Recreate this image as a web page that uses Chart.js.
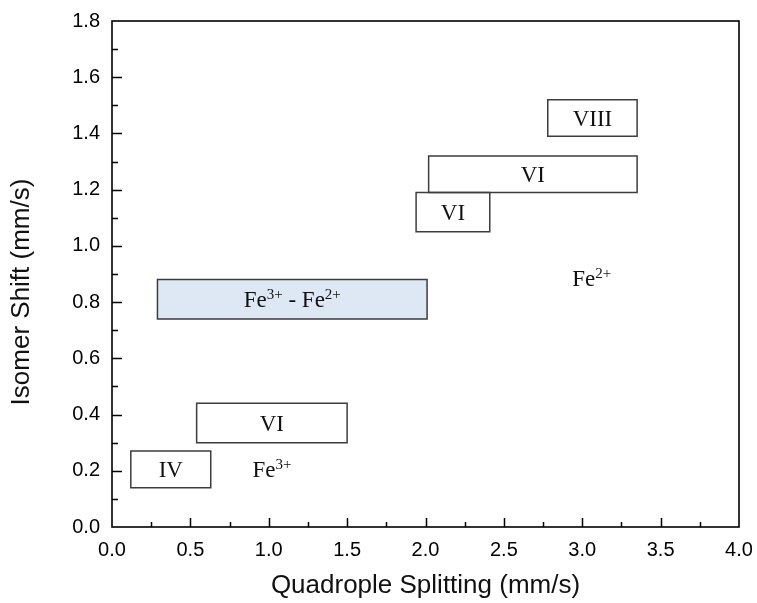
<!DOCTYPE html>
<html>
<head>
<meta charset="utf-8">
<title>Isomer Shift vs Quadrople Splitting</title>
<script src="https://cdn.jsdelivr.net/npm/chart.js@4/dist/chart.umd.min.js"></script>
<style>
  html, body { margin: 0; padding: 0; background: #fff; }
  #wrap { width: 757px; height: 603px; }
</style>
</head>
<body>
<div id="wrap"><canvas id="c" width="757" height="603"></canvas></div>
<script>
// Coordination-number regions (quadrupole splitting vs isomer shift, mm/s)
const boxLabels = ['IV', 'VI', 'Fe^{3+} - Fe^{2+}', 'VI', 'VI', 'VIII'];
const qsMin = [0.12, 0.54, 0.29, 1.94, 2.02, 2.78];
const qsMax = [0.63, 1.50, 2.01, 2.41, 3.35, 3.35];
const isMin = [0.14, 0.30, 0.74, 1.05, 1.19, 1.39];
const isMax = [0.27, 0.44, 0.88, 1.19, 1.32, 1.52];
const boxFills = [null, null, '#dde8f4', null, null, null];

// Free-standing oxidation-state labels
const noteLabels = ['Fe^{3+}', 'Fe^{2+}'];
const noteQs = [1.02, 3.06];
const noteIs = [0.205, 0.885];

// Axis ranges and tick steps
const xRange = [0, 4.0];
const yRange = [0, 1.8];
const xStep = 0.5;
const yStep = 0.2;
const xTitle = 'Quadrople Splitting (mm/s)';
const yTitle = 'Isomer Shift (mm/s)';

const SANS = '"Liberation Sans", Arial, sans-serif';
const SERIF = '"Liberation Serif", "Times New Roman", serif';

// Each region becomes a closed polygon dataset
const datasets = boxLabels.map((lab, i) => ({
  label: lab,
  type: 'line',
  data: [
    { x: qsMin[i], y: isMin[i] },
    { x: qsMax[i], y: isMin[i] },
    { x: qsMax[i], y: isMax[i] },
    { x: qsMin[i], y: isMax[i] },
    { x: qsMin[i], y: isMin[i] }
  ],
  borderColor: '#3d3d3d',
  borderWidth: 1.5,
  borderJoinStyle: 'miter',
  borderCapStyle: 'square',
  backgroundColor: boxFills[i] || 'rgba(0,0,0,0)',
  fill: boxFills[i] ? 'shape' : false,
  pointRadius: 0,
  pointHoverRadius: 0,
  tension: 0,
  order: boxFills[i] ? 1 : 0
}));

// "Fe^{3+}" -> [{t:'Fe'},{t:'3+',sup:true}]
function parseRich(str) {
  const parts = [];
  const re = /\^\{([^}]*)\}/g;
  let last = 0, m;
  while ((m = re.exec(str)) !== null) {
    if (m.index > last) parts.push({ t: str.slice(last, m.index) });
    parts.push({ t: m[1], sup: true });
    last = re.lastIndex;
  }
  if (last < str.length) parts.push({ t: str.slice(last) });
  return parts;
}

function drawRich(ctx, str, cx, cy, size) {
  const supSize = Math.round(size * 0.65);
  const parts = parseRich(str);
  const fontMain = size + 'px ' + SERIF;
  const fontSup = supSize + 'px ' + SERIF;
  let total = 0;
  parts.forEach(p => {
    ctx.font = p.sup ? fontSup : fontMain;
    p.w = ctx.measureText(p.t).width;
    total += p.w;
  });
  // vertically centre on the capital height
  const baseline = cy + size * 0.662 / 2;
  let x = cx - total / 2;
  ctx.textAlign = 'left';
  ctx.textBaseline = 'alphabetic';
  parts.forEach(p => {
    ctx.font = p.sup ? fontSup : fontMain;
    ctx.fillText(p.t, x, p.sup ? baseline - size * 0.36 : baseline);
    x += p.w;
  });
}

const decorPlugin = {
  id: 'decor',
  afterDatasetsDraw(chart) {
    const { ctx, chartArea: a, scales: { x, y } } = chart;
    ctx.save();
    ctx.fillStyle = '#111';
    boxLabels.forEach((lab, i) => {
      const cx = x.getPixelForValue((qsMin[i] + qsMax[i]) / 2);
      const cy = y.getPixelForValue((isMin[i] + isMax[i]) / 2);
      drawRich(ctx, lab, cx, cy, 23);
    });
    noteLabels.forEach((lab, i) => {
      drawRich(ctx, lab, x.getPixelForValue(noteQs[i]), y.getPixelForValue(noteIs[i]), 23);
    });

    // frame
    ctx.strokeStyle = '#000';
    ctx.lineWidth = 1.6;
    ctx.strokeRect(a.left, a.top, a.right - a.left, a.bottom - a.top);

    // inward ticks: major at label steps, minor halfway between
    ctx.lineWidth = 1.5;
    ctx.beginPath();
    const nx = Math.round((xRange[1] - xRange[0]) / (xStep / 2));
    for (let k = 1; k < nx; k++) {
      const v = xRange[0] + k * xStep / 2;
      const px = Math.round(x.getPixelForValue(v)) + 0.5;
      const len = k % 2 === 0 ? 9 : 5;
      ctx.moveTo(px, a.bottom);
      ctx.lineTo(px, a.bottom - len);
    }
    const ny = Math.round((yRange[1] - yRange[0]) / (yStep / 2));
    for (let k = 1; k < ny; k++) {
      const v = yRange[0] + k * yStep / 2;
      const py = Math.round(y.getPixelForValue(v)) + 0.5;
      const len = k % 2 === 0 ? 10 : 6;
      ctx.moveTo(a.left, py);
      ctx.lineTo(a.left + len, py);
    }
    ctx.stroke();

    // vertical axis title
    ctx.translate(21.5, 292);
    ctx.rotate(-Math.PI / 2);
    ctx.font = '26px ' + SANS;
    ctx.textAlign = 'center';
    ctx.textBaseline = 'middle';
    ctx.fillStyle = '#111';
    ctx.fillText(yTitle, 0, 0);
    ctx.restore();
  }
};

new Chart(document.getElementById('c'), {
  type: 'scatter',
  data: { datasets },
  plugins: [decorPlugin],
  options: {
    responsive: false,
    animation: false,
    events: [],
    layout: { padding: { left: 0, right: 18, top: 21, bottom: 0 } },
    plugins: { legend: { display: false }, tooltip: { enabled: false } },
    scales: {
      x: {
        type: 'linear',
        min: xRange[0], max: xRange[1],
        afterFit(s) { s.height = 76; s.paddingLeft = 0; s.paddingRight = 0; },
        border: { display: false },
        grid: { display: false, drawTicks: false },
        ticks: {
          stepSize: xStep,
          callback: v => Number(v).toFixed(1),
          font: { family: SANS, size: 20 },
          color: '#000',
          padding: 11,
          maxRotation: 0,
          autoSkip: false
        },
        title: {
          display: true,
          text: xTitle,
          font: { family: SANS, size: 26 },
          color: '#111',
          padding: { top: 0, bottom: 2 }
        }
      },
      y: {
        type: 'linear',
        min: yRange[0], max: yRange[1],
        afterFit(s) { s.width = 112; s.paddingTop = 0; s.paddingBottom = 0; },
        border: { display: false },
        grid: { display: false, drawTicks: false },
        ticks: {
          stepSize: yStep,
          callback: v => Number(v).toFixed(1),
          font: { family: SANS, size: 20 },
          color: '#000',
          padding: 12,
          autoSkip: false
        },
        title: { display: false }
      }
    }
  }
});
</script>
</body>
</html>
